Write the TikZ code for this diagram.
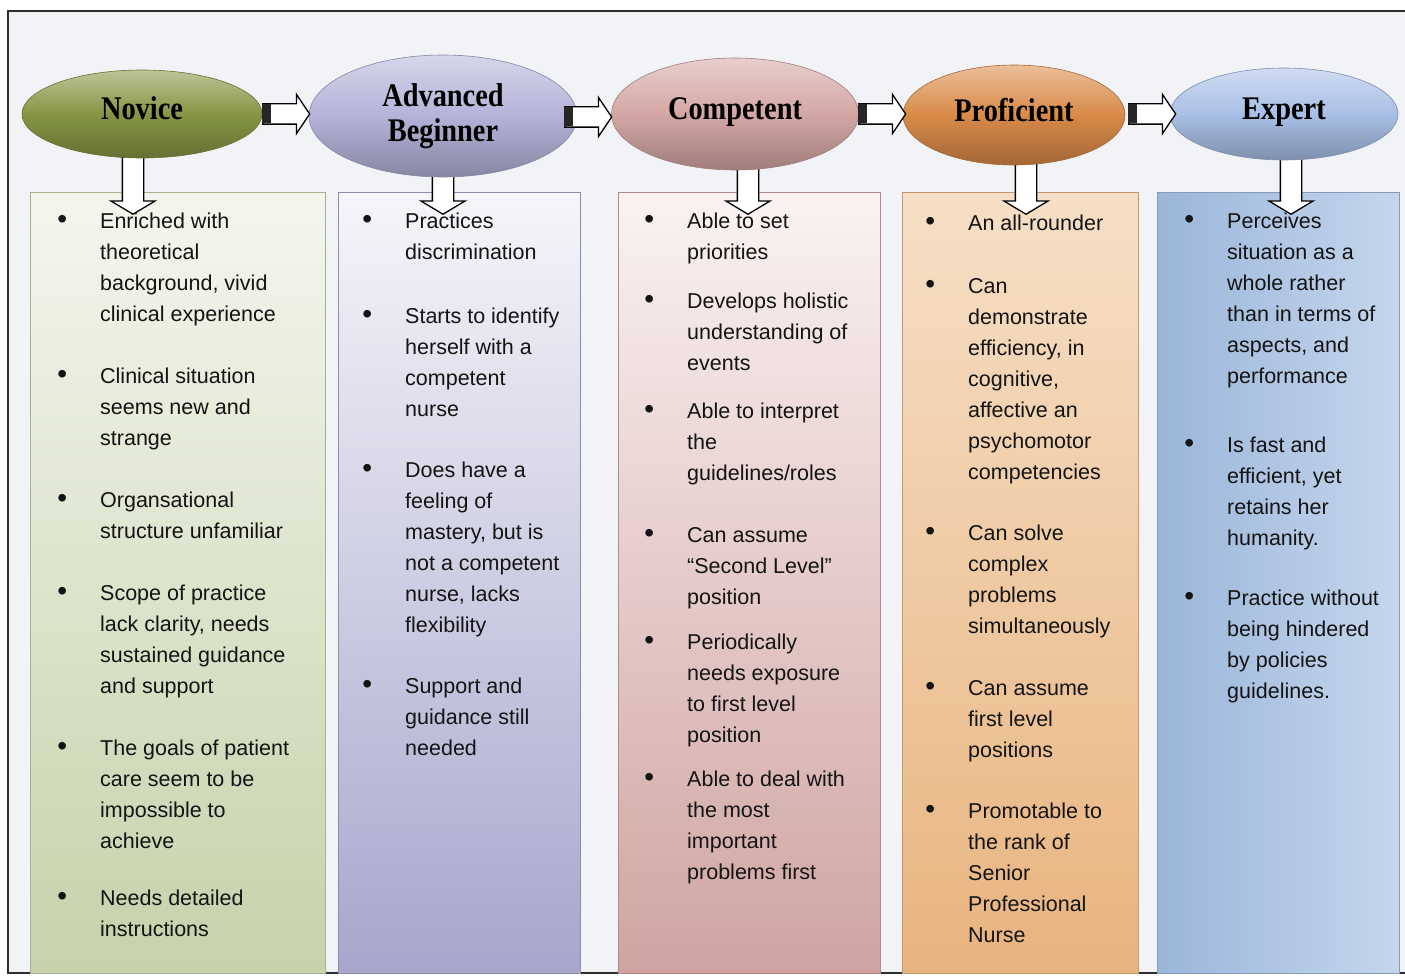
\documentclass[tikz,border=0pt]{standalone}
\usepackage{fontspec}
\setmainfont{Liberation Sans}
\newfontfamily\stagefont{Liberation Serif}[FakeStretch=0.86]
\usepackage{xcolor}
\usetikzlibrary{shapes,arrows,positioning,calc}

\definecolor{pagebg}{HTML}{F2F3F7}
\definecolor{framecol}{HTML}{2E2E2E}
% ellipse colours
\definecolor{novicecol}{HTML}{869644}
\definecolor{advcol}{HTML}{B4B3D8}
\definecolor{compcol}{HTML}{D4A7A4}
\definecolor{profcol}{HTML}{D98A48}
\definecolor{expcol}{HTML}{A8BFE6}
% column colours (top / bottom)
\definecolor{novtop}{HTML}{F4F6EE}
\definecolor{novbot}{HTML}{C5D2AA}
\definecolor{advtop}{HTML}{F5F5FA}
\definecolor{advbot}{HTML}{A7A6CC}
\definecolor{comtop}{HTML}{FAF2F2}
\definecolor{combot}{HTML}{CFA4A0}
\definecolor{protop}{HTML}{F6DFC6}
\definecolor{probot}{HTML}{E8B47F}
\definecolor{expleft}{HTML}{9BB6DA}
\definecolor{expright}{HTML}{C4D6EC}

% bullet hanging left of the first line (strut fixes the first line height)
\newcommand{\bul}{\strut\makebox[0pt][r]{{\fontsize{28}{28}\selectfont\textbullet}\hspace{33pt}}}

\begin{document}
\begin{tikzpicture}[
        x=1pt, y=-1pt,
        stage/.style={ellipse, draw=#1!75!black, line width=0.6pt, inner sep=0pt, align=center, text depth=11pt, font=\stagefont\bfseries\fontsize{33}{35}\selectfont, top color=#1!55!white, bottom color=#1!75!black, middle color=#1},
        column/.style 2 args={rectangle, anchor=north west, inner sep=0pt, minimum height=781pt, draw=#2!85!black, line width=0.8pt, top color=#1, bottom color=#2},
        hop/.style={single arrow, draw=black, fill=white, line width=1.3pt, inner sep=0pt, inner ysep=9.5pt, single arrow head extend=9.5pt, single arrow tip angle=112, minimum height=47pt, anchor=tail},
        drop/.style={hop, inner ysep=10pt, single arrow head extend=11.5pt, single arrow tip angle=118, minimum height=60pt, rotate=-90, anchor=tip},
        point/.style={anchor=north west, yshift=21.7pt, align=left, inner sep=0pt, text=black!92, font=\fontsize{21.5}{31}\selectfont}
    ]
    \useasboundingbox (0,0) rectangle (1405,976);

    % Frame
    \fill[pagebg] (8,11) rectangle (1405,973);
    \draw[framecol, line width=2pt] (1405,11) -- (8,11) -- (8,973) -- (1405,973);

    % Columns
    \node[column={novtop}{novbot}, minimum width=295pt] (novbox) at (30,192) {};
    \node[column={advtop}{advbot}, minimum width=242pt] (advbox) at (338,192) {};
    \node[column={comtop}{combot}, minimum width=262pt] (combox) at (618,192) {};
    \node[column={protop}{probot}, minimum width=236pt] (probox) at (902,192) {};
    \node[column={expleft}{expleft}, left color=expleft, right color=expright, minimum width=242pt] (expbox) at (1157,192) {};

    % Arrows down into the columns
    \node[drop] (drop1) at (133,215) {};
    \node[drop] (drop2) at (443,215) {};
    \node[drop] (drop3) at (748,215) {};
    \node[drop] (drop4) at (1026,215) {};
    \node[drop] (drop5) at (1291,215) {};

    % Stages
    \node[stage=novicecol, minimum width=240pt, minimum height=88pt] (novice) at (142,114) {Novice};
    \node[stage=advcol, minimum width=268pt, minimum height=122pt, text depth=7pt] (advanced) at (443,116) {Advanced\\Beginner};
    \node[stage=compcol, minimum width=247pt, minimum height=112pt] (competent) at (735,114) {Competent};
    \node[stage=profcol, minimum width=222pt, minimum height=100pt] (proficient) at (1014,115) {Proficient};
    \node[stage=expcol, minimum width=228pt, minimum height=92pt] (expert) at (1284,114) {Expert};

    % Arrows between stages
    \node[hop] (hop1) at (262,114) {};
    \node[hop] (hop2) at (564,117) {};
    \node[hop] (hop3) at (858,114) {};
    \node[hop] (hop4) at (1128,114) {};
    \fill[black!85] ($(hop1.tail)+(0,-9.5)$) rectangle ($(hop1.tail)+(9,9.5)$);
    \fill[black!85] ($(hop2.tail)+(0,-9.5)$) rectangle ($(hop2.tail)+(9,9.5)$);
    \fill[black!85] ($(hop3.tail)+(0,-9.5)$) rectangle ($(hop3.tail)+(9,9.5)$);
    \fill[black!85] ($(hop4.tail)+(0,-9.5)$) rectangle ($(hop4.tail)+(9,9.5)$);

    % Novice
    \node[point] (nov1) at (100,228) {\bul Enriched with\\theoretical\\background, vivid\\clinical experience};
    \node[point] (nov2) at (100,383) {\bul Clinical situation\\seems new and\\strange};
    \node[point] (nov3) at (100,507) {\bul Organsational\\structure unfamiliar};
    \node[point] (nov4) at (100,600) {\bul Scope of practice\\lack clarity, needs\\sustained guidance\\and support};
    \node[point] (nov5) at (100,755) {\bul The goals of patient\\care seem to be\\impossible to\\achieve};
    \node[point] (nov6) at (100,905) {\bul Needs detailed\\instructions};

    % Advanced Beginner
    \node[point] (adv1) at (405,228) {\bul Practices\\discrimination};
    \node[point] (adv2) at (405,323) {\bul Starts to identify\\herself with a\\competent\\nurse};
    \node[point] (adv3) at (405,477) {\bul Does have a\\feeling of\\mastery, but is\\not a competent\\nurse, lacks\\flexibility};
    \node[point] (adv4) at (405,693) {\bul Support and\\guidance still\\needed};

    % Competent
    \node[point] (com1) at (687,228) {\bul Able to set\\priorities};
    \node[point] (com2) at (687,308) {\bul Develops holistic\\understanding of\\events};
    \node[point] (com3) at (687,418) {\bul Able to interpret\\the\\guidelines/roles};
    \node[point] (com4) at (687,542) {\bul Can assume\\“Second Level”\\position};
    \node[point] (com5) at (687,649) {\bul Periodically\\needs exposure\\to first level\\position};
    \node[point] (com6) at (687,786) {\bul Able to deal with\\the most\\important\\problems first};

    % Proficient
    \node[point] (pro1) at (968,230) {\bul An all-rounder};
    \node[point] (pro2) at (968,293) {\bul Can\\demonstrate\\efficiency, in\\cognitive,\\affective an\\psychomotor\\competencies};
    \node[point] (pro3) at (968,540) {\bul Can solve\\complex\\problems\\simultaneously};
    \node[point] (pro4) at (968,695) {\bul Can assume\\first level\\positions};
    \node[point] (pro5) at (968,818) {\bul Promotable to\\the rank of\\Senior\\Professional\\Nurse};

    % Expert
    \node[point] (exp1) at (1227,228) {\bul Perceives\\situation as a\\whole rather\\than in terms of\\aspects, and\\performance};
    \node[point] (exp2) at (1227,452) {\bul Is fast and\\efficient, yet\\retains her\\humanity.};
    \node[point] (exp3) at (1227,605) {\bul Practice without\\being hindered\\by policies\\guidelines.};

\end{tikzpicture}
\end{document}
